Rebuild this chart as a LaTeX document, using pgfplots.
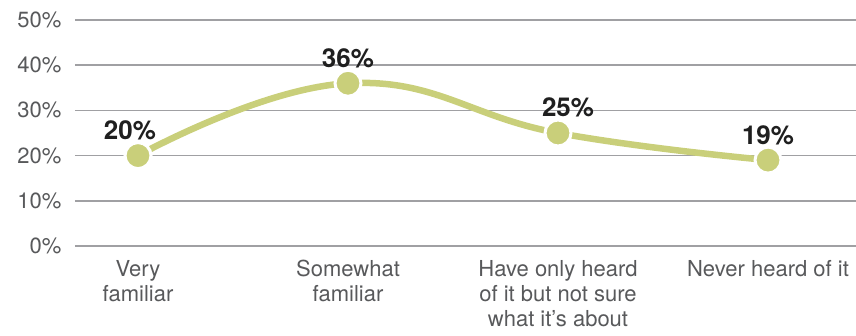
\documentclass[border=0pt]{standalone}
\usepackage{pgfplots}
\pgfplotsset{compat=1.18}
\usepackage{fontspec}
\setmainfont{TeX Gyre Heros}
\definecolor{olive}{HTML}{C9CF7A}
\definecolor{tickgray}{HTML}{58595B}
\definecolor{gridgray}{HTML}{A0A0A3}
\begin{document}
\begin{tikzpicture}
\useasboundingbox (-75pt,-90pt) rectangle (781pt,246pt);
\begin{axis}[
  at={(0pt,0pt)}, anchor=south west,
  scale only axis, width=781pt, height=226pt,
  xmin=-0.3, xmax=3.419, ymin=0, ymax=50,
  axis line style={draw=none},
  ytick={0,10,20,30,40,50},
  ymajorgrids, grid style={gridgray, line width=1.6pt},
  xtick={0,1,2,3},
  xticklabels={{Very\\familiar},{Somewhat\\familiar},{Have only heard\\of it but not sure\\what it’s about},{Never heard of it}},
  xticklabel style={align=center, font=\fontsize{22}{25}\selectfont, text=tickgray, anchor=north, yshift=-11pt},
  yticklabel={\pgfmathprintnumber{\tick}\%},
  yticklabel style={font=\fontsize{22}{25}\selectfont, text=tickgray, anchor=east, xshift=-10pt},
  /pgf/number format/assume math mode=true,
  major tick length=0pt,
  clip=false,
  lbl/.style={draw=none, mark=none,
    nodes near coords={\pgfmathprintnumber{\pgfplotspointmeta}\%},
    point meta=y,
    every node near coord/.append style={font=\fontsize{26}{28}\bfseries, text=black!88, anchor=south, yshift=12pt, xshift=#1, /pgf/number format/assume math mode=true}},
]
\addplot[olive, line width=6.5pt, smooth, tension=0.75,
  mark=*, mark size=13pt, mark options={fill=olive, draw=white, line width=3pt},
] coordinates {(0,20) (1,36) (2,25) (3,19)};
\addplot[lbl=0pt] coordinates {(1,36) (3,19)};
\addplot[lbl=-8pt] coordinates {(0,20)};
\addplot[lbl=10pt] coordinates {(2,25)};
\end{axis}
\end{tikzpicture}
\end{document}
